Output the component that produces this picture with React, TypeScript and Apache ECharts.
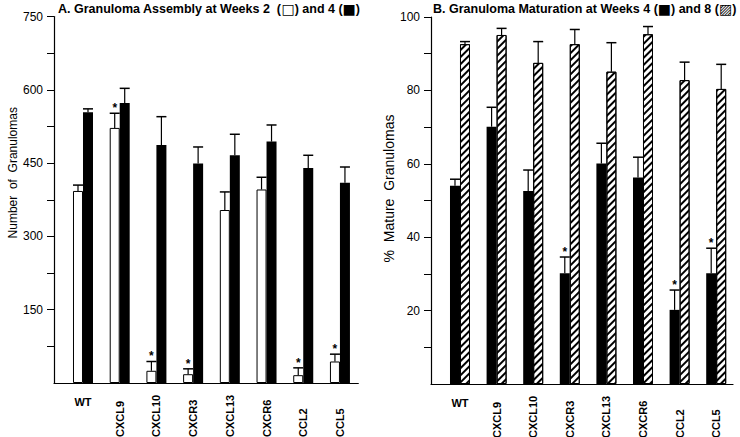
import React, { useEffect, useRef } from "react";
import * as echarts from "echarts";

const categories = ["WT", "CXCL9", "CXCL10", "CXCR3", "CXCL13", "CXCR6", "CCL2", "CCL5"];

// Panel A: number of granulomas
const week2Count = [393, 522, 25, 18, 354, 396, 16, 44];
const week2CountErr = [12, 30, 19, 11, 37, 25, 15, 15];
const week2Sig = [0, 1, 1, 1, 0, 0, 1, 1];
const week4Count = [554, 573, 487, 449, 466, 494, 440, 410];
const week4CountErr = [7, 30, 58, 34, 43, 34, 26, 32];
const week4Sig = [0, 0, 0, 0, 0, 0, 0, 0];

// Panel B: % mature granulomas
const week4Mature = [54.0, 70.1, 52.6, 30.2, 60.1, 56.3, 20.2, 30.2];
const week4MatureErr = [1.8, 5.3, 5.7, 4.4, 5.5, 5.5, 5.4, 6.8];
const week4MatureSig = [0, 0, 0, 1, 0, 0, 1, 1];
const week8Mature = [92.6, 95.1, 87.5, 92.6, 85.1, 95.3, 82.8, 80.4];
const week8MatureErr = [0.7, 1.8, 5.8, 4.0, 7.9, 2.1, 4.9, 6.7];
const week8Sig = [0, 0, 0, 0, 0, 0, 0, 0];

const countTicks = [75, 150, 225, 300, 375, 450, 525, 600, 675, 750];
const countLabels = [150, 300, 450, 600, 750];
const matureTicks = [10, 20, 30, 40, 50, 60, 70, 80, 90, 100];
const matureLabels = [20, 40, 60, 80, 100];

const FONT = "'Liberation Sans', Arial, Helvetica, sans-serif";

const gridA = { left: 54, top: 16.5, width: 304.3, height: 366.5 };
const gridB = { left: 431, top: 17, width: 302, height: 367 };
const xRangeA = { min: -0.79, max: 7.5 };
const xRangeB = { min: -0.792, max: 7.459 };
const catIdx = categories.map((_, i) => i);

function makeErr(dx: number) {
  return (params: any, api: any) => {
    const i = api.value(0);
    const m = api.value(1);
    const e = api.value(2);
    const s = api.value(3);
    const p0 = api.coord([i, m]);
    const p1 = api.coord([i, m + e]);
    const x = p0[0] + dx;
    const children: any[] = [
      { type: "line", shape: { x1: x, y1: p0[1], x2: x, y2: p1[1] }, style: { stroke: "#000", lineWidth: 1.2 } },
      { type: "line", shape: { x1: x - 5, y1: p1[1], x2: x + 5, y2: p1[1] }, style: { stroke: "#000", lineWidth: 1.5 } },
    ];
    if (s) {
      children.push({
        type: "text",
        x: x,
        y: p1[1] - 5,
        style: { text: "*", align: "center", verticalAlign: "middle", fontSize: 12, fontWeight: "bold", fill: "#000", fontFamily: FONT },
      });
    }
    return { type: "group", children };
  };
}

function errData(vals: number[], errs: number[], sig: number[]) {
  return vals.map((v, i) => [i, v, errs[i], sig[i]]);
}

function barData(vals: number[]) {
  return vals.map((v, i) => [i, v]);
}

function xAxes(gridIndex: number, range: { min: number; max: number }) {
  return [
    {
      type: "value",
      gridIndex,
      position: "bottom",
      min: range.min,
      max: range.max,
      axisLine: { show: true, onZero: false, lineStyle: { color: "#000", width: 1.2 } },
      axisTick: { show: false },
      splitLine: { show: false },
      axisLabel: {
        customValues: catIdx,
        rotate: 90,
        align: "left",
        verticalAlign: "middle",
        margin: 54,
        fontWeight: "bold",
        fontSize: 11,
        color: "#000",
        fontFamily: FONT,
        formatter: (v: number) => {
          const c = categories[Math.round(v)];
          return c === "WT" ? "" : c || "";
        },
      },
    },
    {
      type: "value",
      gridIndex,
      position: "bottom",
      min: range.min,
      max: range.max,
      axisLine: { show: false, onZero: false },
      axisTick: { show: false },
      splitLine: { show: false },
      axisLabel: {
        customValues: [0],
        margin: 13,
        fontWeight: "bold",
        fontSize: 11,
        color: "#000",
        fontFamily: FONT,
        formatter: (v: number) => categories[Math.round(v)] || "",
      },
    },
  ];
}

function yAxis(
  gridIndex: number,
  max: number,
  ticks: number[],
  labels: number[],
  name: string,
  nameGap: number,
  nameSize: number,
  shiftUp: number
) {
  return {
    type: "value",
    gridIndex,
    position: "left",
    min: 0,
    max,
    name,
    nameLocation: "middle",
    nameGap,
    nameTextStyle: { fontSize: nameSize, color: "#000", fontFamily: FONT, padding: [0, 0, 0, shiftUp * 2] },
    axisLine: { show: true, onZero: false, lineStyle: { color: "#000", width: 1.2 } },
    axisTick: { show: true, length: 7, customValues: ticks, lineStyle: { color: "#000", width: 1 } },
    axisLabel: { margin: 11, fontSize: 12, color: "#000", fontFamily: FONT, customValues: labels },
    splitLine: { show: false },
  };
}

function titleRich() {
  return {
    sym: { fontSize: 14, fontWeight: "normal", color: "#000", fontFamily: "'DejaVu Sans', sans-serif" },
  };
}

export default function App() {
  const ref = useRef<HTMLDivElement>(null);
  useEffect(() => {
    document.body.style.margin = "0";
    const chart = echarts.init(ref.current!, undefined, { renderer: "svg" });
    const hatch = {
      symbol: "rect",
      symbolSize: 1,
      dashArrayX: [1, 0],
      dashArrayY: [2, 3],
      rotation: -Math.PI / 4,
      color: "#000",
    };
    const option: any = {
      animation: false,
      backgroundColor: "#fff",
      textStyle: { fontFamily: FONT, color: "#000" },
      title: [
        {
          text: "A. Granuloma Assembly at Weeks 2  ({sym|□}) and 4 ({sym|■})",
          left: 58,
          top: 2,
          padding: 0,
          textStyle: { fontSize: 12.5, fontWeight: "bold", color: "#000", fontFamily: FONT, rich: titleRich() },
        },
        {
          text: "B. Granuloma Maturation at Weeks 4 ({sym|■}) and 8 ({sym|▨})",
          left: 433,
          top: 2,
          padding: 0,
          textStyle: { fontSize: 12.5, fontWeight: "bold", color: "#000", fontFamily: FONT, rich: titleRich() },
        },
      ],
      grid: [
        { ...gridA, containLabel: false, outerBoundsMode: "none" },
        { ...gridB, containLabel: false, outerBoundsMode: "none" },
      ],
      xAxis: [...xAxes(0, xRangeA), ...xAxes(1, xRangeB)],
      yAxis: [
        yAxis(0, 750, countTicks, countLabels, "Number  of  Granulomas", 33, 12, 27),
        yAxis(1, 100, matureTicks, matureLabels, "%  Mature  Granulomas", 31, 14, 12),
      ],
      series: [
        {
          type: "bar",
          name: "Week 2",
          xAxisIndex: 0,
          yAxisIndex: 0,
          data: barData(week2Count),
          barWidth: 10,
          barGap: "0%",
          itemStyle: { color: "#fff", borderColor: "#000", borderWidth: 1 },
        },
        {
          type: "bar",
          name: "Week 4",
          xAxisIndex: 0,
          yAxisIndex: 0,
          data: barData(week4Count),
          barWidth: 10,
          barGap: "0%",
          itemStyle: { color: "#000" },
        },
        {
          type: "custom",
          xAxisIndex: 0,
          yAxisIndex: 0,
          data: errData(week2Count, week2CountErr, week2Sig),
          renderItem: makeErr(-5),
          z: 5,
          silent: true,
        },
        {
          type: "custom",
          xAxisIndex: 0,
          yAxisIndex: 0,
          data: errData(week4Count, week4CountErr, week4Sig),
          renderItem: makeErr(5),
          z: 5,
          silent: true,
        },
        {
          type: "bar",
          name: "Week 4 maturation",
          xAxisIndex: 2,
          yAxisIndex: 1,
          data: barData(week4Mature),
          barWidth: 10,
          barGap: "0%",
          itemStyle: { color: "#000" },
        },
        {
          type: "bar",
          name: "Week 8 maturation",
          xAxisIndex: 2,
          yAxisIndex: 1,
          data: barData(week8Mature),
          barWidth: 10,
          barGap: "0%",
          itemStyle: { color: "#fff", borderColor: "#000", borderWidth: 1, decal: hatch },
        },
        {
          type: "custom",
          xAxisIndex: 2,
          yAxisIndex: 1,
          data: errData(week4Mature, week4MatureErr, week4MatureSig),
          renderItem: makeErr(-5),
          z: 5,
          silent: true,
        },
        {
          type: "custom",
          xAxisIndex: 2,
          yAxisIndex: 1,
          data: errData(week8Mature, week8MatureErr, week8Sig),
          renderItem: makeErr(5),
          z: 5,
          silent: true,
        },
      ],
    };
    chart.setOption(option);
    return () => chart.dispose();
  }, []);
  return <div ref={ref} style={{ width: 740, height: 437, position: "absolute", left: 0, top: 0 }} />;
}
